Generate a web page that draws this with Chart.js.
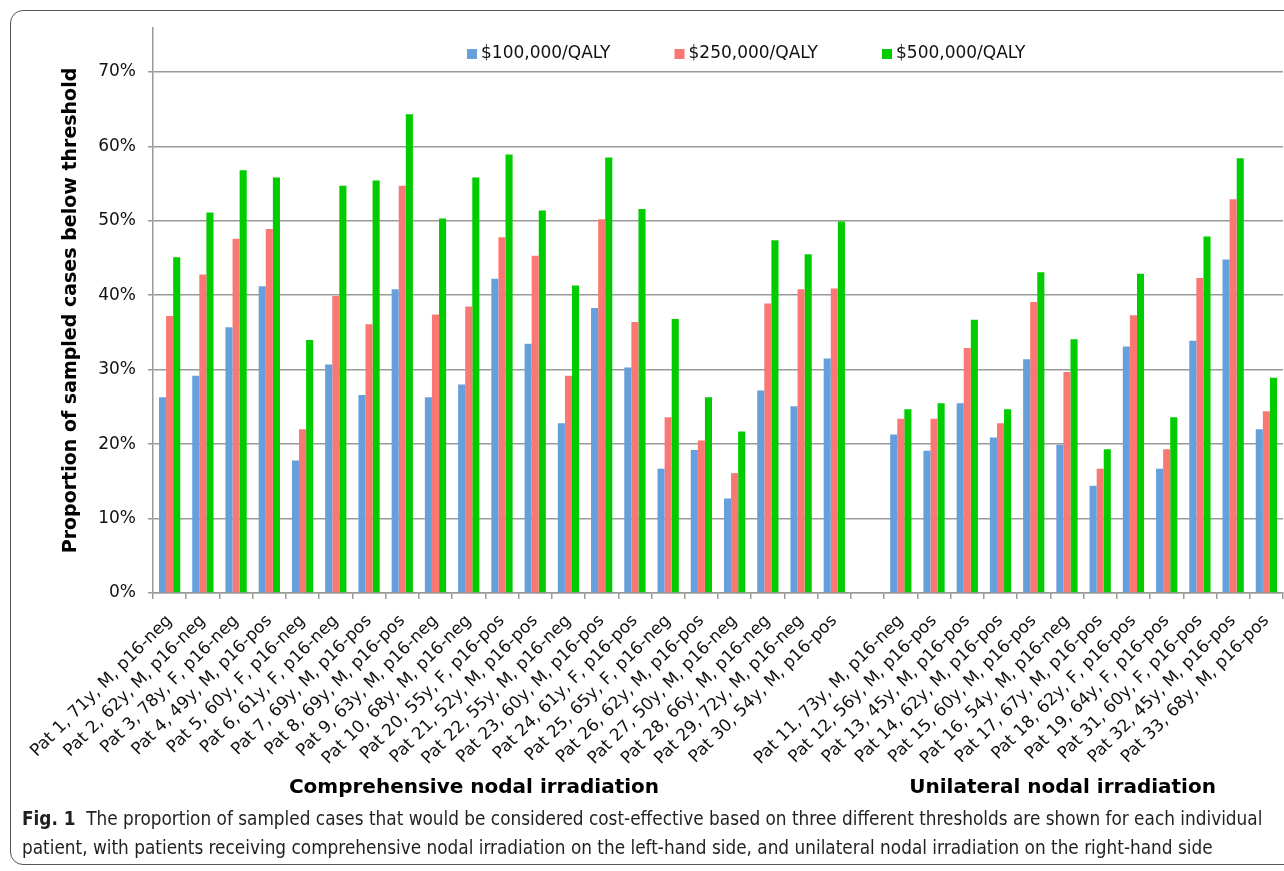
<!DOCTYPE html>
<html>
<head>
<meta charset="utf-8">
<script src="https://cdn.jsdelivr.net/npm/chart.js@4.4.1/dist/chart.umd.min.js"></script>
<style>
  html, body { margin:0; padding:0; background:#fff; width:1284px; height:871px; overflow:hidden; }
  #frame { position:absolute; left:10px; top:10px; width:1330px; height:855px; border:1.5px solid #555; border-radius:13px; box-sizing:border-box; }
  #wrap { position:absolute; left:0; top:0; width:1284px; height:871px; }
  #cap { position:absolute; left:22px; top:804px; font-family:'Liberation Sans Narrow','DejaVu Sans Condensed','Open Sans',sans-serif; font-size:20px; line-height:29px; color:#231f20; white-space:nowrap; transform-origin:0 0; }
  #cap b { font-weight:bold; }
</style>
</head>
<body>
<div id="frame"></div>
<div id="wrap"><canvas id="c" width="1284" height="871"></canvas></div>
<div id="cap"><div id="l1"><b>Fig. 1</b>&nbsp; The proportion of sampled cases that would be considered cost-effective based on three different thresholds are shown for each individual</div><div id="l2">patient, with patients receiving comprehensive nodal irradiation on the left-hand side, and unilateral nodal irradiation on the right-hand side</div></div>
<script>
const categories = [
  "Pat 1, 71y, M, p16-neg", "Pat 2, 62y, M, p16-neg", "Pat 3, 78y, F, p16-neg", "Pat 4, 49y, M, p16-pos",
  "Pat 5, 60y, F, p16-neg", "Pat 6, 61y, F, p16-neg", "Pat 7, 69y, M, p16-pos", "Pat 8, 69y, M, p16-pos",
  "Pat 9, 63y, M, p16-neg", "Pat 10, 68y, M, p16-neg", "Pat 20, 55y, F, p16-pos", "Pat 21, 52y, M, p16-pos",
  "Pat 22, 55y, M, p16-neg", "Pat 23, 60y, M, p16-pos", "Pat 24, 61y, F, p16-pos", "Pat 25, 65y, F, p16-neg",
  "Pat 26, 62y, M, p16-pos", "Pat 27, 50y, M, p16-neg", "Pat 28, 66y, M, p16-neg", "Pat 29, 72y, M, p16-neg",
  "Pat 30, 54y, M, p16-pos", "",
  "Pat 11, 73y, M, p16-neg", "Pat 12, 56y, M, p16-pos", "Pat 13, 45y, M, p16-pos", "Pat 14, 62y, M, p16-pos",
  "Pat 15, 60y, M, p16-pos", "Pat 16, 54y, M, p16-neg", "Pat 17, 67y, M, p16-pos", "Pat 18, 62y, F, p16-pos",
  "Pat 19, 64y, F, p16-pos", "Pat 31, 60y, F, p16-pos", "Pat 32, 45y, M, p16-pos", "Pat 33, 68y, M, p16-pos"
];
const seriesNames = ["$100,000/QALY", "$250,000/QALY", "$500,000/QALY"];
const qaly100k = [26.3, 29.2, 35.7, 41.2, 17.8, 30.7, 26.6, 40.8, 26.3, 28.0, 42.2, 33.5, 22.8, 38.3, 30.3, 16.7, 19.2, 12.7, 27.2, 25.1, 31.5, null,
                  21.3, 19.1, 25.5, 20.9, 31.4, 19.9, 14.4, 33.1, 16.7, 33.9, 44.8, 22.0];
const qaly250k = [37.2, 42.8, 47.6, 48.9, 22.0, 39.9, 36.1, 54.7, 37.4, 38.5, 47.8, 45.3, 29.2, 50.2, 36.4, 23.6, 20.5, 16.1, 38.9, 40.8, 40.9, null,
                  23.4, 23.4, 32.9, 22.8, 39.1, 29.7, 16.7, 37.3, 19.3, 42.3, 52.9, 24.4];
const qaly500k = [45.1, 51.1, 56.8, 55.8, 34.0, 54.7, 55.4, 64.3, 50.3, 55.8, 58.9, 51.4, 41.3, 58.5, 51.6, 36.8, 26.3, 21.7, 47.4, 45.5, 49.9, null,
                  24.7, 25.5, 36.7, 24.7, 43.1, 34.1, 19.3, 42.9, 23.6, 47.9, 58.4, 28.9];
const yTickStep = 10;
const groupTitles = ["Comprehensive nodal irradiation", "Unilateral nodal irradiation"];

const colors = ["#66A0DC", "#FA7873", "#00CC00"];

const overlay = {
  id: 'overlay',
  afterDraw(chart) {
    const ctx = chart.ctx;
    const x = chart.scales.x;
    ctx.save();
    // legend
    ctx.font = '17px "DejaVu Sans"';
    ctx.textBaseline = 'middle';
    ctx.textAlign = 'left';
    chart.data.datasets.forEach((ds, i) => {
      const lx = 467 + i * 207.5;
      ctx.fillStyle = ds.backgroundColor;
      ctx.fillRect(lx, 49, 10, 10);
      ctx.fillStyle = '#111';
      ctx.fillText(ds.label, lx + 14, 54);
    });
    // group titles
    ctx.font = 'bold 20px "DejaVu Sans"';
    ctx.textAlign = 'center';
    ctx.fillStyle = '#000';
    ctx.fillText(groupTitles[0], x.getPixelForValue(10) - 28, 788);
    ctx.fillText(groupTitles[1], x.getPixelForValue(27.5) - 21, 788);
    ctx.restore();
  }
};

new Chart(document.getElementById('c'), {
  type: 'bar',
  data: {
    labels: categories,
    datasets: [qaly100k, qaly250k, qaly500k].map((d, i) => ({
      label: seriesNames[i],
      data: d,
      backgroundColor: colors[i],
      borderWidth: 0,
      barPercentage: 1.0,
      categoryPercentage: 0.64
    }))
  },
  plugins: [overlay],
  options: {
    responsive: false,
    animation: false,
    layout: { padding: { top: 28, right: 1, bottom: 0, left: 0 } },
    plugins: { legend: { display: false }, tooltip: { enabled: false } },
    scales: {
      x: {
        grid: { display: true, drawOnChartArea: false, drawTicks: true, tickLength: 6, color: '#999', lineWidth: 1.5, offset: true },
        border: { color: '#999', width: 1.5 },
        ticks: { autoSkip: false, minRotation: 45, maxRotation: 45, padding: 12, color: '#111', font: { family: 'DejaVu Sans', size: 17 } },
        afterFit(scale) { scale.height = 278; scale.paddingRight = 0; scale.paddingLeft = 0; }
      },
      y: {
        min: 0, max: 75.9,
        grid: { color: '#999', lineWidth: 1.5, tickLength: 5 },
        border: { color: '#999', width: 1.5 },
        ticks: { stepSize: yTickStep, padding: 12, color: '#111', font: { family: 'DejaVu Sans', size: 17 },
                 callback: v => v + '%' },
        afterBuildTicks(scale) { scale.ticks = scale.ticks.filter(t => Math.abs(t.value / yTickStep - Math.round(t.value / yTickStep)) < 1e-6); },
        title: { display: true, text: 'Proportion of sampled cases below threshold', color: '#000',
                 font: { family: 'DejaVu Sans', size: 19, weight: 'bold' }, padding: { top: 60, bottom: 0 } },
        afterFit(scale) { scale.width = 153; }
      }
    }
  }
});

// fit caption lines to reference width
(function(){
  const l1 = document.getElementById('l1');
  const w = l1.scrollWidth;
  const s = 1240 / w;
  document.getElementById('cap').style.transform = 'scaleX(' + s + ')';
})();
</script>
</body>
</html>
